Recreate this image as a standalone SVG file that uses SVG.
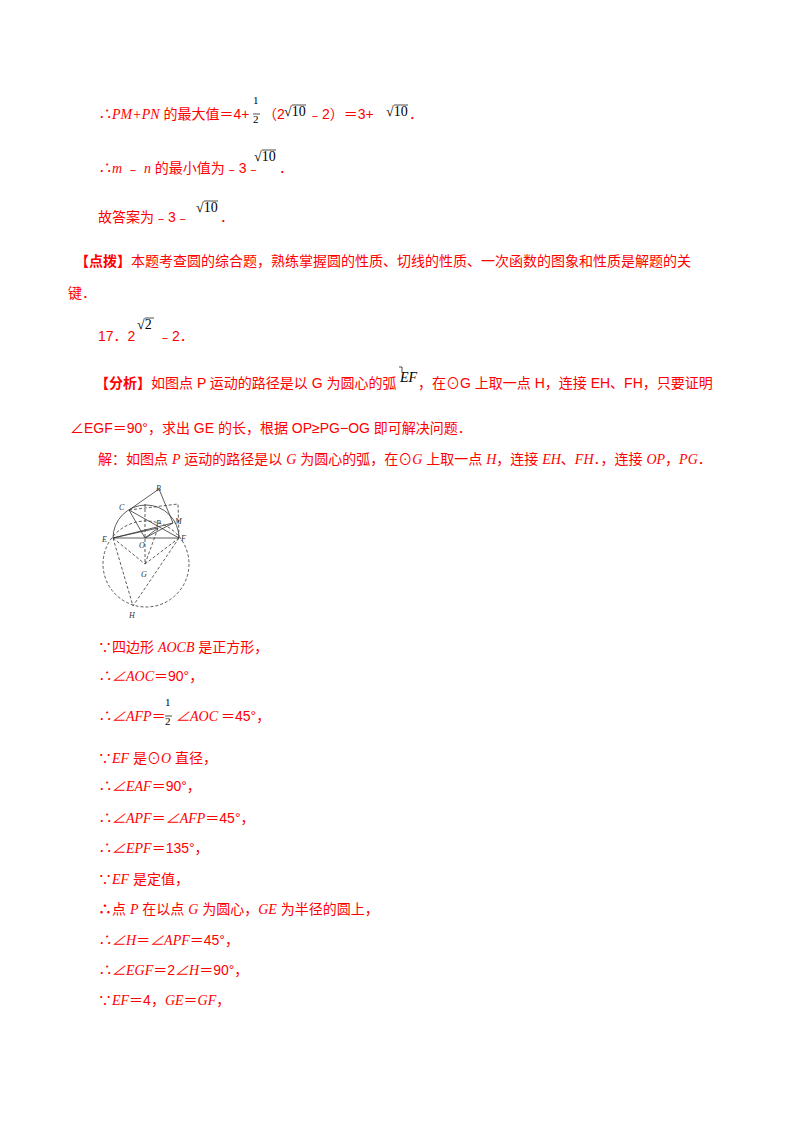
<svg xmlns="http://www.w3.org/2000/svg" width="800" height="1132" viewBox="0 0 800 1132" xml:space="preserve">
<style>
text{font-family:"Liberation Sans","Noto Sans CJK SC",sans-serif;font-size:14px;fill:#ff0000}
.i{font-family:"Liberation Serif","Noto Sans CJK SC",serif;font-style:italic}
.m{font-family:"Liberation Serif",serif;fill:#000;font-size:14px}
.s{font-family:"Liberation Serif",serif;fill:#000;font-size:11px}
.b{font-weight:bold}
.fig line,.fig polyline,.fig path,.fig circle{stroke:#333;stroke-width:0.8;fill:none}
.fig .d{stroke-dasharray:3,2}
.fig text{fill:#333;font-family:"Liberation Serif",serif;font-style:italic;font-size:8px}
</style>
<rect width="800" height="1132" fill="#fff"/>
<text x="98" y="119"><tspan class="i">∴PM+PN</tspan> 的最大值＝4+<tspan class="s" x="253" y="104">1</tspan><tspan class="s" x="253" y="123">2</tspan><tspan x="263" y="119">（2</tspan><tspan class="m" x="284" y="116">√10</tspan><tspan x="308" y="119">﹣2）＝3+</tspan><tspan class="m" x="386" y="116">√10</tspan><tspan x="409" y="119">．</tspan></text>
<line x1="253" y1="114" x2="260" y2="114" stroke="#000" stroke-width="0.7"/>
<line x1="292" y1="105" x2="306" y2="105" stroke="#000" stroke-width="0.7"/>
<line x1="394" y1="105" x2="408" y2="105" stroke="#000" stroke-width="0.7"/>
<text x="98" y="173"><tspan class="i">∴m</tspan> ﹣ <tspan class="i">n</tspan> 的最小值为﹣3﹣<tspan class="m" x="254" y="161">√10</tspan><tspan x="279" y="173">．</tspan></text>
<line x1="262" y1="150" x2="276" y2="150" stroke="#000" stroke-width="0.7"/>
<text x="98" y="222">故答案为﹣3﹣<tspan class="m" x="196" y="212">√10</tspan><tspan x="220" y="222">．</tspan></text>
<line x1="204" y1="201" x2="218" y2="201" stroke="#000" stroke-width="0.7"/>
<text x="75" y="266"><tspan class="b">【点拨】</tspan>本题考查圆的综合题，熟练掌握圆的性质、切线的性质、一次函数的图象和性质是解题的关</text>
<text x="68" y="298">键．</text>
<text x="98" y="341">17．2<tspan class="m" x="137" y="329">√2</tspan><tspan x="158" y="341">﹣2．</tspan></text>
<line x1="145" y1="318" x2="154" y2="318" stroke="#000" stroke-width="0.7"/>
<text x="95" y="388"><tspan class="b">【分析】</tspan>如图点 P 运动的路径是以 G 为圆心的弧<tspan class="m i" x="400" y="382" font-size="15">EF</tspan><tspan x="418" y="388">，在⊙G 上取一点 H，连接 EH、FH，只要证明</tspan></text>
<path d="M399 367 h3 v5" stroke="#000" stroke-width="0.7" fill="none"/>
<text x="70" y="433">∠EGF＝90°，求出 GE 的长，根据 OP≥PG−OG 即可解决问题．</text>
<text x="98" y="464">解：如图点 <tspan class="i">P</tspan> 运动的路径是以 <tspan class="i">G</tspan> 为圆心的弧，在⊙<tspan class="i">G</tspan> 上取一点 <tspan class="i">H</tspan>，连接 <tspan class="i">EH</tspan>、<tspan class="i">FH</tspan>．，连接 <tspan class="i">OP</tspan>，<tspan class="i">PG</tspan>．</text>
<g class="fig">
<path d="M113 538 A33 33 0 0 1 179 538"/>
<line x1="113" y1="538" x2="179" y2="538"/>
<circle class="d" cx="146" cy="564" r="43"/>
<polyline class="d" points="129,510 178,504 179,538"/>
<line class="d" x1="145" y1="504" x2="145" y2="564"/>
<line x1="129" y1="510" x2="159" y2="489"/>
<line x1="159" y1="489" x2="173" y2="523"/>
<line x1="129" y1="510" x2="145" y2="538"/>
<line x1="145" y1="538" x2="173" y2="523"/>
<line x1="129" y1="510" x2="179" y2="538"/>
<line x1="113" y1="538" x2="173" y2="523"/>
<line x1="113" y1="538" x2="158" y2="528"/>
<line x1="145" y1="538" x2="158" y2="528"/>
<line class="d" x1="158" y1="528" x2="145" y2="564"/>
<line class="d" x1="113" y1="538" x2="145" y2="564"/>
<line class="d" x1="179" y1="538" x2="145" y2="564"/>
<line class="d" x1="113" y1="538" x2="133" y2="606"/>
<line class="d" x1="179" y1="538" x2="133" y2="606"/>
<text x="156" y="491">B</text><text x="119" y="510">C</text><text x="156" y="526">P</text><text x="175" y="524">M</text>
<text x="102" y="542">E</text><text x="181" y="541">F</text><text x="139" y="548">O</text><text x="141" y="577">G</text><text x="129" y="618">H</text>
</g>
<text x="98" y="652">∵四边形 <tspan class="i">AOCB</tspan> 是正方形，</text>
<text x="98" y="681"><tspan class="i">∴∠AOC</tspan>＝90°，</text>
<text x="98" y="721"><tspan class="i">∴∠AFP</tspan>＝<tspan class="s" x="165" y="706">1</tspan><tspan class="s" x="165" y="725">2</tspan><tspan class="i" x="176" y="721">∠AOC</tspan><tspan x="221" y="721">＝45°，</tspan></text>
<line x1="165" y1="716" x2="172" y2="716" stroke="#000" stroke-width="0.7"/>
<text x="98" y="763">∵<tspan class="i">EF</tspan> 是⊙<tspan class="i">O</tspan> 直径，</text>
<text x="98" y="791"><tspan class="i">∴∠EAF</tspan>＝90°，</text>
<text x="98" y="823"><tspan class="i">∴∠APF</tspan>＝<tspan class="i">∠AFP</tspan>＝45°，</text>
<text x="98" y="853"><tspan class="i">∴∠EPF</tspan>＝135°，</text>
<text x="98" y="884">∵<tspan class="i">EF</tspan> 是定值，</text>
<text x="98" y="914"><tspan class="b">∴</tspan>点 <tspan class="i">P</tspan> 在以点 <tspan class="i">G</tspan> 为圆心，<tspan class="i">GE</tspan> 为半径的圆上，</text>
<text x="98" y="945"><tspan class="i">∴∠H</tspan>＝<tspan class="i">∠APF</tspan>＝45°，</text>
<text x="98" y="975"><tspan class="i">∴∠EGF</tspan>＝2<tspan class="i">∠H</tspan>＝90°，</text>
<text x="98" y="1005">∵<tspan class="i">EF</tspan>＝4，<tspan class="i">GE</tspan>＝<tspan class="i">GF</tspan>，</text>
</svg>
